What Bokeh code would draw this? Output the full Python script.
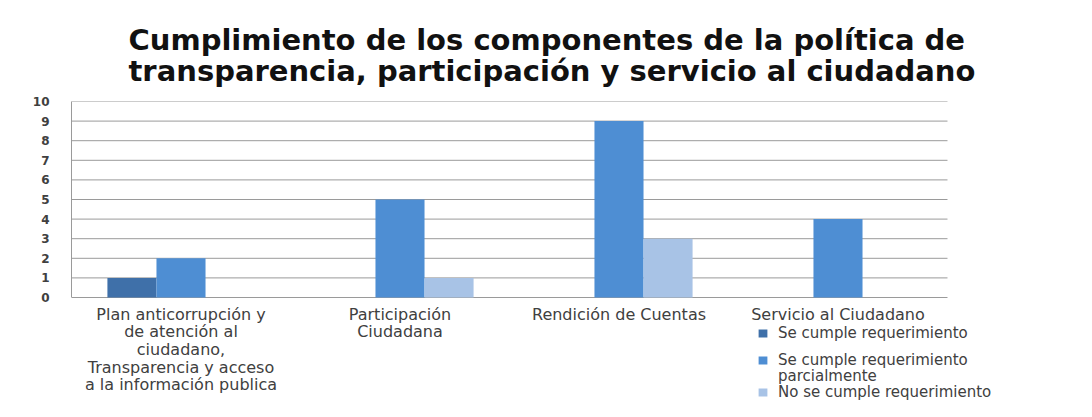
from bokeh.plotting import figure
from bokeh.models import ColumnDataSource, Legend, LegendItem, Title, Range1d
from bokeh.core.properties import value
from bokeh.transform import dodge
from bokeh.embed import file_html
from bokeh.resources import INLINE

categories = [
    "Plan anticorrupción y\nde atención al\nciudadano,\nTransparencia y acceso\na la información publica",
    "Participación\nCiudadana",
    "Rendición de Cuentas",
    "Servicio al Ciudadano",
]
se_cumple = [1, 0, 0, 0]
se_cumple_parcial = [2, 5, 9, 4]
no_se_cumple = [0, 1, 3, 0]
series_names = ["Se cumple requerimiento", "Se cumple requerimiento", "No se cumple requerimiento"]
legend_extra = "parcialmente"
y_ticks = list(range(0, 11))

n = len(categories)
xpos = list(range(n))
src = ColumnDataSource(dict(x=xpos, cat=categories, a=se_cumple, b=se_cumple_parcial,
                            c=no_se_cumple, base=[0] * n))
grid_src = ColumnDataSource(dict(y=y_ticks, x0=[-0.5] * len(y_ticks), x1=[n - 0.5] * len(y_ticks)))

W, H = 1092, 417
p = figure(x_range=Range1d(-0.5, 4.153), y_range=Range1d(-5.765, 10), width=W, height=H,
           output_backend="svg", toolbar_location=None,
           min_border_left=71, min_border_right=2, min_border_top=101, min_border_bottom=7)

title = Title(text="Cumplimiento de los componentes de la política de\n"
                   "transparencia, participación y servicio al ciudadano",
              align="left", offset=57, vertical_align="top",
              text_font="DejaVu Sans", text_font_size="29px", text_font_style="bold",
              text_color="#111111", standoff=23, text_line_height=0.91)
p.add_layout(title, "above")

p.segment(x0="x0", y0="y", x1="x1", y1="y", source=grid_src, line_color="#9a9a9a",
          line_width=1, level="underlay")

w = 0.224
ra = p.vbar(x=dodge("x", -w), top="a", width=w, source=src,
            fill_color="#3F70A9", line_color=None)
rb = p.vbar(x=dodge("x", 0), top="b", width=w, source=src,
            fill_color="#4E8ED3", line_color=None)
rc = p.vbar(x=dodge("x", w), top="c", width=w, source=src,
            fill_color="#A8C3E6", line_color=None)
dummy = p.vbar(x=[], top=[], width=w, fill_alpha=0, line_alpha=0)

# category labels under the baseline
p.text(x="x", y="base", text="cat", source=src, y_offset=7,
       text_align="center", text_baseline="top", text_font=value("DejaVu Sans"),
       text_font_size="16px", text_color="#404040", text_line_height=0.93)

p.outline_line_color = None
p.xaxis.visible = False
p.xgrid.grid_line_color = None
p.ygrid.grid_line_color = None
p.yaxis.ticker = y_ticks
p.yaxis.bounds = (0, 10)
p.yaxis.axis_line_color = "#9a9a9a"
p.yaxis.major_tick_line_color = None
p.yaxis.minor_tick_line_color = None
p.yaxis.major_label_text_font = "DejaVu Sans"
p.yaxis.major_label_text_color = "#404040"
p.yaxis.major_label_text_font_size = "12px"
p.yaxis.major_label_text_font_style = "bold"
p.yaxis.major_label_standoff = 16

common = dict(padding=0, margin=0, border_line_color=None, background_fill_alpha=0,
              glyph_width=11, glyph_height=10, label_standoff=10,
              label_text_font="DejaVu Sans", label_text_font_size="15px",
              label_text_color="#404040", spacing=0, label_height=15)
legs = [
    Legend(items=[LegendItem(label=series_names[0], renderers=[ra])], location=(686, 68), **common),
    Legend(items=[LegendItem(label=series_names[1], renderers=[rb])], location=(686, 41), **common),
    Legend(items=[LegendItem(label=legend_extra, renderers=[dummy])], location=(686, 25), **common),
    Legend(items=[LegendItem(label=series_names[2], renderers=[rc])], location=(686, 9), **common),
]
for lg in legs:
    p.add_layout(lg, "center")

open("out.html", "w").write(file_html(p, INLINE))
